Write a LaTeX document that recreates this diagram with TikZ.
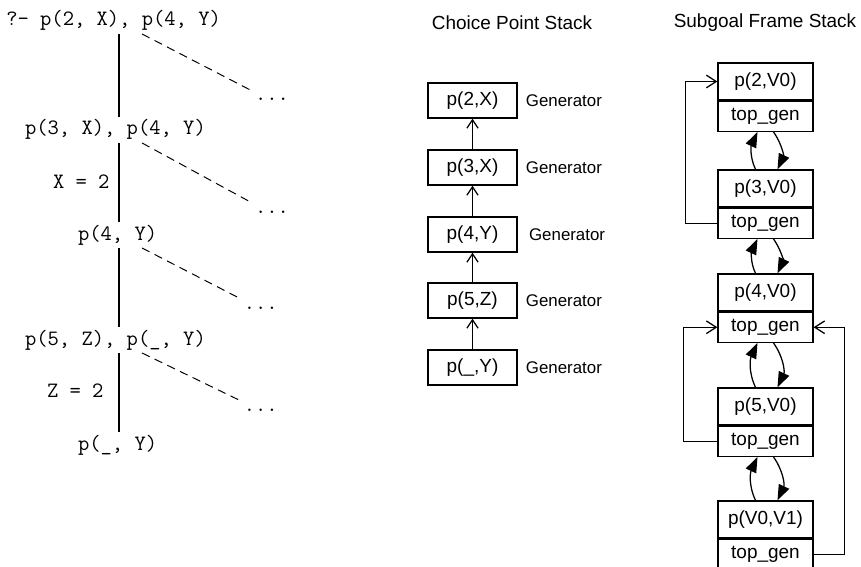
\documentclass[tikz,border=0pt]{standalone}
\usepackage{fontspec}
\setmainfont{Liberation Sans}
\usepackage{tikz}
\usetikzlibrary{arrows.meta, positioning}
\newcommand{\goalfont}{\ttfamily\fontsize{15.6}{18}\selectfont}
\newcommand{\boxfont}{\fontsize{13.5}{16}\selectfont}

\begin{document}
\begin{tikzpicture}[
    goal/.style={font=\goalfont, inner sep=2pt, anchor=base west},
    more/.style={goal, text height=0.5em},
    solve/.style={line width=1pt},
    branch/.style={line width=0.7pt, dash pattern=on 6pt off 4pt},
    title/.style={font=\boxfont},
    cpbox/.style={draw, line width=0.9pt, minimum width=2.225cm, minimum height=0.875cm, font=\boxfont},
    genlbl/.style={font=\fontsize{12}{14}\selectfont, inner sep=0.1cm},
    frame/.style={draw, line width=0.9pt, minimum width=2.375cm, minimum height=0.925cm, font=\boxfont},
    framegen/.style={frame, minimum height=0.75cm},
    up/.style={-{Straight Barb[length=6pt,width=8pt]}, line width=0.9pt},
    swap/.style={-{Triangle[length=11pt,width=8pt]}, line width=0.9pt},
    back/.style={-{Straight Barb[length=7pt,width=9pt]}, line width=0.9pt},
]
\useasboundingbox (0,0) rectangle (21.525,-14.175);

% SLD tree
\node[goal] (q0) at (0.08, -0.65) {?- p(2, X), p(4, Y)};
\node[goal] (q1) at (0.55, -3.375) {p(3, X), p(4, Y)};
\node[goal] (lbx) at (1.25, -4.7) {X = 2};
\node[goal] (q2) at (1.875, -6.0) {p(4, Y)};
\node[goal] (q3) at (0.55, -8.625) {p(5, Z), p(\_, Y)};
\node[goal] (lbz) at (1.1, -9.925) {Z = 2};
\node[goal] (q4) at (1.875, -11.25) {p(\_, Y)};
\node[more] (d0) at (6.3, -2.525) {...};
\node[more] (d1) at (6.3, -5.325) {...};
\node[more] (d2) at (6.02, -7.725) {...};
\node[more] (d3) at (6.02, -10.275) {...};
\coordinate (tx) at (2.975, 0);
\coordinate (dx) at (3.55, 0);

\draw[solve] (q0.south -| tx) -- (q1.north -| tx);
\draw[solve] (q1.south -| tx) -- (q2.north -| tx);
\draw[solve] (q2.south -| tx) -- (q3.north -| tx);
\draw[solve] (q3.south -| tx) -- (q4.north -| tx);
\draw[branch] (q0.south -| dx) -- (d0.north west);
\draw[branch] (q1.south -| dx) -- (d1.north west);
\draw[branch] (q2.south -| dx) -- (d2.north west);
\draw[branch] (q3.south -| dx) -- (d3.north west);

% Choice point stack
\node[title] (cptitle) at (12.8, -0.575) {Choice Point Stack};
\node[cpbox] (cp1) at (11.8125, -2.5125) {p(2,X)};
\node[cpbox] (cp2) at (11.8125, -4.1875) {p(3,X)};
\node[cpbox] (cp3) at (11.8125, -5.8625) {p(4,Y)};
\node[cpbox] (cp4) at (11.8125, -7.5125) {p(5,Z)};
\node[cpbox] (cp5) at (11.8125, -9.1875) {p(\_,Y)};
\node[genlbl, right=0.1cm of cp1] (g1) {Generator};
\node[genlbl, right=0.1cm of cp2] (g2) {Generator};
\node[genlbl, right=0.18cm of cp3] (g3) {Generator};
\node[genlbl, right=0.1cm of cp4] (g4) {Generator};
\node[genlbl, right=0.1cm of cp5] (g5) {Generator};
\draw[up] (cp2) -- (cp1);
\draw[up] (cp3) -- (cp2);
\draw[up] (cp4) -- (cp3);
\draw[up] (cp5) -- (cp4);

% Subgoal frame stack
\node[title] (sftitle) at (19.125, -0.575) {Subgoal Frame Stack};
\node[frame] (s1) at (19.1375, -2.0375) {p(2,V0)};
\node[framegen, below=0cm of s1] (s1g) {top\_gen};
\node[frame] (s2) at (19.1375, -4.7125) {p(3,V0)};
\node[framegen, below=0cm of s2] (s2g) {top\_gen};
\node[frame] (s3) at (19.1375, -7.3125) {p(4,V0)};
\node[framegen, below=0cm of s3] (s3g) {top\_gen};
\node[frame] (s4) at (19.1375, -10.1625) {p(5,V0)};
\node[framegen, below=0cm of s4] (s4g) {top\_gen};
\node[frame] (s5) at (19.1375, -12.9875) {p(V0,V1)};
\node[framegen, below=0cm of s5] (s5g) {top\_gen};

% links between frames
\draw[swap] ([xshift=-0.25cm]s2.north) to[out=115, in=-115] ([xshift=-0.2cm]s1g.south);
\draw[swap] ([xshift=0.2cm]s1g.south) to[out=-55, in=65] ([xshift=0.3cm]s2.north);
\draw[swap] ([xshift=-0.25cm]s3.north) to[out=115, in=-115] ([xshift=-0.2cm]s2g.south);
\draw[swap] ([xshift=0.2cm]s2g.south) to[out=-55, in=65] ([xshift=0.3cm]s3.north);
\draw[swap] ([xshift=-0.25cm]s4.north) to[out=115, in=-115] ([xshift=-0.2cm]s3g.south);
\draw[swap] ([xshift=0.2cm]s3g.south) to[out=-55, in=65] ([xshift=0.3cm]s4.north);
\draw[swap] ([xshift=-0.25cm]s5.north) to[out=115, in=-115] ([xshift=-0.2cm]s4g.south);
\draw[swap] ([xshift=0.2cm]s4g.south) to[out=-55, in=65] ([xshift=0.3cm]s5.north);

% top_gen back pointers
\draw[back] (s2g.west) -- ++(-0.8, 0) |- (s1.west);
\draw[back] (s4g.west) -- ++(-0.85, 0) |- (s3g.west);
\draw[back] (s5g.east) -- ++(0.775, 0) |- (s3g.east);

\end{tikzpicture}
\end{document}
